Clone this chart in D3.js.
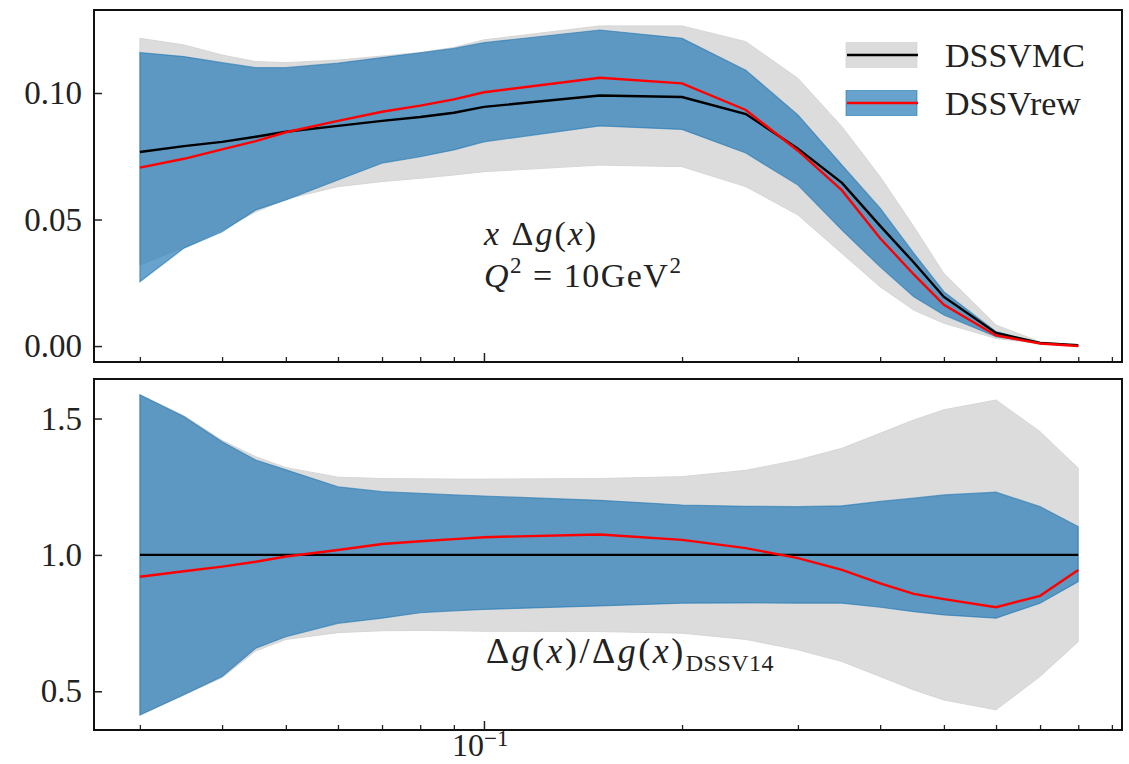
<!DOCTYPE html>
<html>
<head>
<meta charset="utf-8">
<script src="https://cdn.jsdelivr.net/npm/d3@7"></script>
<style>
    body { margin: 0; background: #fff; }
    svg text { font-family: "Liberation Serif", "DejaVu Serif", serif; fill: #222; }
    svg tspan.it { font-family: "Liberation Serif"; font-style: italic; }
</style>
</head>
<body>
<svg class="chart"></svg>
<script>
// x grid (log scale)
var xs = [0.03, 0.035, 0.04, 0.045, 0.05, 0.06, 0.07, 0.08, 0.09, 0.1, 0.15, 0.2, 0.25, 0.3, 0.35, 0.4, 0.45, 0.5, 0.6, 0.7, 0.8];

// top panel: x Δg(x)
var mcMid = [0.0767, 0.079, 0.0807, 0.0827, 0.0847, 0.087, 0.089, 0.0905, 0.0922, 0.0945, 0.099, 0.0984, 0.0917, 0.078, 0.0645, 0.0475, 0.033, 0.0194, 0.0052, 0.0012, 0.0003];
var mcUp = [0.1216, 0.119, 0.115, 0.1124, 0.112, 0.113, 0.1146, 0.116, 0.118, 0.121, 0.1265, 0.1265, 0.1203, 0.1058, 0.0867, 0.0669, 0.0472, 0.0287, 0.0083, 0.0017, 0.0002];
var mcLo = [0.032, 0.039, 0.046, 0.053, 0.058, 0.063, 0.065, 0.0663, 0.0676, 0.0689, 0.0715, 0.0709, 0.063, 0.0518, 0.0366, 0.0234, 0.0142, 0.009, 0.003, 0.001, 0.0];
var rewMid = [0.0705, 0.074, 0.0777, 0.081, 0.0845, 0.089, 0.0926, 0.095, 0.0975, 0.1003, 0.106, 0.1038, 0.0933, 0.0772, 0.0615, 0.0426, 0.0283, 0.0163, 0.0042, 0.001, 0.0];
var rewUp = [0.116, 0.1144, 0.112, 0.110, 0.110, 0.1118, 0.114, 0.1159, 0.1176, 0.1199, 0.1249, 0.1216, 0.109, 0.0913, 0.0715, 0.0545, 0.0367, 0.0215, 0.0057, 0.0012, 0.0002];
var rewLo = [0.0254, 0.0387, 0.0452, 0.0538, 0.0577, 0.0656, 0.0723, 0.0748, 0.0775, 0.0807, 0.087, 0.0856, 0.0763, 0.0636, 0.0458, 0.0313, 0.0195, 0.0123, 0.0037, 0.0011, 0.0];

// bottom panel: ratio to DSSV14
var ratioMc = [1, 1, 1, 1, 1, 1, 1, 1, 1, 1, 1, 1, 1, 1, 1, 1, 1, 1, 1, 1, 1];
var ratioMcUp = [1.587, 1.51, 1.42, 1.36, 1.32, 1.285, 1.28, 1.279, 1.278, 1.278, 1.28, 1.287, 1.31, 1.348, 1.391, 1.446, 1.495, 1.532, 1.568, 1.452, 1.318];
var ratioMcLo = [0.413, 0.487, 0.55, 0.648, 0.69, 0.715, 0.722, 0.723, 0.722, 0.72, 0.719, 0.713, 0.69, 0.652, 0.609, 0.554, 0.505, 0.468, 0.432, 0.554, 0.682];
var ratioRew = [0.92, 0.94, 0.957, 0.975, 0.994, 1.018, 1.04, 1.05, 1.058, 1.065, 1.075, 1.055, 1.025, 0.988, 0.945, 0.896, 0.857, 0.838, 0.808, 0.85, 0.945];
var ratioRewUp = [1.587, 1.507, 1.415, 1.348, 1.312, 1.25, 1.232, 1.226, 1.22, 1.216, 1.2, 1.183, 1.178, 1.177, 1.18, 1.196, 1.208, 1.22, 1.23, 1.177, 1.104];
var ratioRewLo = [0.413, 0.487, 0.554, 0.658, 0.7, 0.749, 0.768, 0.788, 0.795, 0.8, 0.813, 0.823, 0.824, 0.823, 0.823, 0.808, 0.792, 0.78, 0.768, 0.823, 0.902];

// tick values
var topTicks = [0.00, 0.05, 0.10];
var bottomTicks = [0.5, 1.0, 1.5];
var minorXTicks = [0.03, 0.04, 0.05, 0.06, 0.07, 0.08, 0.09, 0.2, 0.3, 0.4, 0.5, 0.6, 0.7, 0.8, 0.9];
var majorXTicks = [0.1];
var legendLabels = ["DSSVMC", "DSSVrew"];

var W = 1129, H = 764;
var left = 94, right = 1122;

var svg = d3.select("svg.chart")
    .attr("width", W)
    .attr("height", H);

var x = d3.scaleLog()
    .domain([0.02555, 0.9324])
    .range([left, right]);

function rows(lo, mid, up) {
    return xs.map(function (v, i) {
        return { x: v, lo: lo[i], mid: mid[i], up: up[i] };
    });
}

function drawPanel(top, bottom, y, mc, rew, ticks, fmt) {
    var g = svg.append("g");

    var area = d3.area()
        .x(function (d) { return x(d.x); })
        .y0(function (d) { return y(d.lo); })
        .y1(function (d) { return y(d.up); });

    var line = d3.line()
        .x(function (d) { return x(d.x); })
        .y(function (d) { return y(d.mid); });

    // bands
    g.append("path")
        .datum(mc)
        .attr("d", area)
        .attr("fill", "#dcdcdc")
        .attr("stroke", "#d6d6d6")
        .attr("stroke-width", 1);

    g.append("path")
        .datum(rew)
        .attr("d", area)
        .attr("fill", "#1f77b4")
        .attr("fill-opacity", 0.68)
        .attr("stroke", "#1f77b4")
        .attr("stroke-opacity", 0.6)
        .attr("stroke-width", 1.2);

    // central lines
    g.append("path")
        .datum(mc)
        .attr("d", line)
        .attr("fill", "none")
        .attr("stroke", "#000")
        .attr("stroke-width", 2.4);

    g.append("path")
        .datum(rew)
        .attr("d", line)
        .attr("fill", "none")
        .attr("stroke", "#ff0000")
        .attr("stroke-width", 2.4);

    // y axis, ticks pointing in
    var yAxis = d3.axisLeft(y)
        .tickValues(ticks)
        .tickFormat(fmt)
        .tickSizeInner(-8)
        .tickSizeOuter(0)
        .tickPadding(12);
    var ga = g.append("g")
        .attr("transform", "translate(" + left + ",0)")
        .call(yAxis);
    ga.select(".domain").remove();
    ga.selectAll("line").attr("stroke", "#222").attr("stroke-width", 1.5);
    ga.selectAll("text")
        .attr("font-size", 33)
        .attr("font-family", "Liberation Serif")
        .attr("fill", "#222");

    // x ticks, minor and major
    var xMinor = d3.axisBottom(x)
        .tickValues(minorXTicks)
        .tickFormat("")
        .tickSizeInner(-5)
        .tickSizeOuter(0);
    var gm = g.append("g")
        .attr("transform", "translate(0," + bottom + ")")
        .call(xMinor);
    gm.select(".domain").remove();
    gm.selectAll("line").attr("stroke", "#222").attr("stroke-width", 1.3);

    var xMajor = d3.axisBottom(x)
        .tickValues(majorXTicks)
        .tickFormat("")
        .tickSizeInner(-9)
        .tickSizeOuter(0);
    var gM = g.append("g")
        .attr("transform", "translate(0," + bottom + ")")
        .call(xMajor);
    gM.select(".domain").remove();
    gM.selectAll("line").attr("stroke", "#222").attr("stroke-width", 1.5);

    // frame
    g.append("rect")
        .attr("x", left)
        .attr("y", top)
        .attr("width", right - left)
        .attr("height", bottom - top)
        .attr("fill", "none")
        .attr("stroke", "#111")
        .attr("stroke-width", 2);

    return g;
}

// top panel
var yTop = d3.scaleLinear().domain([-0.0063, 0.1328]).range([362, 10]);
var gTop = drawPanel(10, 362, yTop, rows(mcLo, mcMid, mcUp), rows(rewLo, rewMid, rewUp),
    topTicks, d3.format(".2f"));

// bottom panel
var yBot = d3.scaleLinear().domain([0.358, 1.645]).range([730, 379]);
var gBot = drawPanel(379, 730, yBot, rows(ratioMcLo, ratioMc, ratioMcUp), rows(ratioRewLo, ratioRew, ratioRewUp),
    bottomTicks, d3.format(".1f"));

// x tick label 10^-1
var xl = svg.append("text")
    .attr("x", x(0.1) - 32)
    .attr("y", 756)
    .attr("font-size", 32);
xl.append("tspan").text("10");
xl.append("tspan").text("\u22121").attr("font-size", 23).attr("dy", -10);

// small helper for math-like text: parts are [text, italic?]
function mathText(el, parts) {
    parts.forEach(function (p) {
        var t = el.append("tspan").text(p[0]);
        if (p[1]) t.attr("class", "it");
    });
    return el;
}

// annotations
var a1 = gTop.append("text")
    .attr("x", x(0.1))
    .attr("y", 245)
    .attr("font-size", 34)
    .attr("letter-spacing", 2);
mathText(a1, [["x", true], [" \u0394", false], ["g", true], ["(", false], ["x", true], [")", false]]);

var a2 = gTop.append("text")
    .attr("x", x(0.1))
    .attr("y", 287)
    .attr("font-size", 34)
    .attr("letter-spacing", 1.5);
a2.append("tspan").text("Q").attr("class", "it");
a2.append("tspan").text("2").attr("font-size", 23).attr("dy", -14);
a2.append("tspan").text(" = 10GeV").attr("dy", 14);
a2.append("tspan").text("2").attr("font-size", 23).attr("dy", -14);

var a3 = gBot.append("text")
    .attr("x", x(0.1) + 2)
    .attr("y", 663)
    .attr("font-size", 36)
    .attr("letter-spacing", 2.5);
mathText(a3, [["\u0394", false], ["g", true], ["(", false], ["x", true], [")/\u0394", false],
              ["g", true], ["(", false], ["x", true], [")", false]]);
a3.append("tspan").text("DSSV14").attr("font-size", 24).attr("dy", 8).attr("letter-spacing", 0.5);

// legend
var legend = gTop.append("g");
var legendFill = [{ fill: "#dcdcdc", op: 1, stroke: "#d0d0d0", line: "#000" },
                  { fill: "#1f77b4", op: 0.68, stroke: "#1f77b4", line: "#ff0000" }];
legendLabels.forEach(function (lab, i) {
    var cy = 55 + i * 48;
    legend.append("rect")
        .attr("x", 846)
        .attr("y", cy - 12.5)
        .attr("width", 71)
        .attr("height", 25)
        .attr("fill", legendFill[i].fill)
        .attr("fill-opacity", legendFill[i].op)
        .attr("stroke", legendFill[i].stroke)
        .attr("stroke-opacity", 0.6);
    legend.append("line")
        .attr("x1", 847)
        .attr("x2", 918)
        .attr("y1", cy)
        .attr("y2", cy)
        .attr("stroke", legendFill[i].line)
        .attr("stroke-width", 2.4);
    legend.append("text")
        .text(lab)
        .attr("x", 945)
        .attr("y", cy + 12)
        .attr("font-size", 34);
});
</script>
</body>
</html>
